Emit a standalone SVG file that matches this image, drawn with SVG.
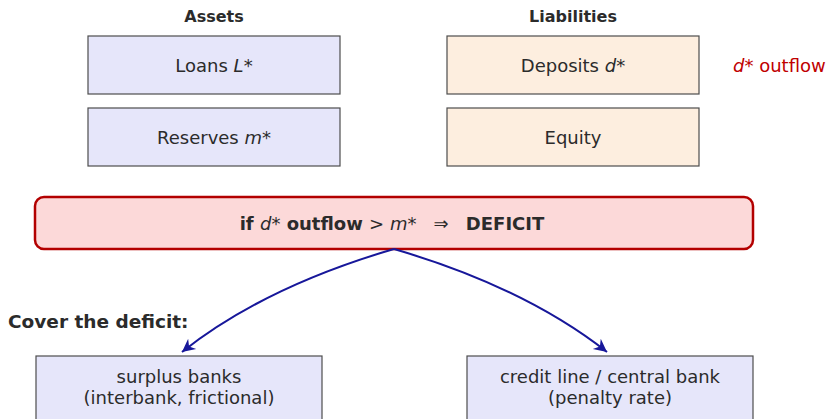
<svg xmlns="http://www.w3.org/2000/svg" width="829" height="419" viewBox="0 0 829 419">
<style>
text{font-family:"DejaVu Sans","Liberation Sans",sans-serif;fill:#2b2b2b}
.hd{font-weight:bold;font-size:16px}
.lb{font-size:18px}
.it{font-style:italic}
.asset{fill:#e6e6fa;stroke:#4d4d4d;stroke-width:1.2}
.liab{fill:#fdeedf;stroke:#4d4d4d;stroke-width:1.2}
.opt{fill:#e6e6fa;stroke:#4d4d4d;stroke-width:1.2}
.conn{fill:none;stroke:#17179a;stroke-width:2}
</style>
<defs>
<marker id="ah" markerUnits="userSpaceOnUse" markerWidth="18" markerHeight="16" refX="13" refY="8" orient="auto">
<path d="M0,1.5 L13,8 L0,14.5 L4,8 Z" fill="#17179a"/>
</marker>
</defs>
<text class="hd" x="214" y="22" text-anchor="middle">Assets</text>
<text class="hd" x="573" y="22" text-anchor="middle">Liabilities</text>
<g id="loans"><rect class="asset" x="88" y="36" width="252" height="58"/><text class="lb" x="214" y="72" text-anchor="middle">Loans <tspan class="it">L</tspan>*</text></g>
<g id="reserves"><rect class="asset" x="88" y="108" width="252" height="58"/><text class="lb" x="214" y="144" text-anchor="middle">Reserves <tspan class="it">m</tspan>*</text></g>
<g id="deposits"><rect class="liab" x="447" y="36" width="252" height="58"/><text class="lb" x="573" y="72" text-anchor="middle">Deposits <tspan class="it">d</tspan>*</text></g>
<g id="equity"><rect class="liab" x="447" y="108" width="252" height="58"/><text class="lb" x="573" y="144" text-anchor="middle">Equity</text></g>
<g id="outflow"><text class="lb" x="733" y="72" style="fill:#c00000"><tspan class="it">d</tspan>* outflow</text></g>
<g id="deficit"><rect x="35" y="197" width="718" height="52" rx="9" fill="#fcd9d9" stroke="#b30000" stroke-width="2.5"/>
<text x="392" y="230" text-anchor="middle" style="font-size:18px;font-weight:bold" xml:space="preserve">if <tspan class="it" font-weight="normal">d</tspan><tspan font-weight="normal">*</tspan> outflow <tspan font-weight="normal">&gt; </tspan><tspan class="it" font-weight="normal">m</tspan><tspan font-weight="normal">*   ⇒   </tspan>DEFICIT</text></g>
<text x="8" y="328" style="font-size:18.5px;font-weight:bold">Cover the deficit:</text>
<g id="connectors">
<path class="conn" d="M394,249 Q264,287 182,352" marker-end="url(#ah)"/>
<path class="conn" d="M394,249 Q524,287 607,352" marker-end="url(#ah)"/>
</g>
<g id="surplus"><rect class="opt" x="36" y="356" width="286" height="80"/><text class="lb" x="179" y="383" text-anchor="middle">surplus banks</text><text class="lb" x="179" y="404" text-anchor="middle">(interbank, frictional)</text></g>
<g id="credit"><rect class="opt" x="467" y="356" width="286" height="80"/><text class="lb" x="610" y="383" text-anchor="middle">credit line / central bank</text><text class="lb" x="610" y="404" text-anchor="middle">(penalty rate)</text></g>
</svg>
